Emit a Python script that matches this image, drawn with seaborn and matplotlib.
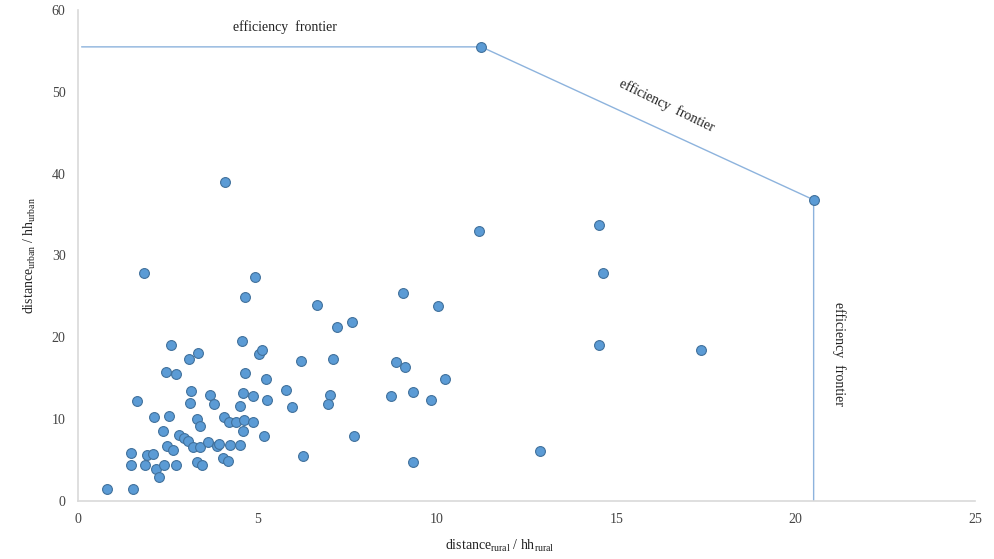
import matplotlib

matplotlib.use("Agg")
import matplotlib.pyplot as plt
import pandas as pd
import seaborn as sns

# household points (x: rural distance per household, y: urban distance per household)
dist_x = [
    0.80, 1.52, 1.65, 1.49, 1.49, 1.86, 1.93, 2.08, 2.16, 2.27,
    2.13, 2.38, 2.40, 2.47, 2.53, 2.58, 2.46, 2.74, 2.64, 2.74,
    2.81, 2.95, 3.08, 3.34, 3.15, 3.13, 3.07, 3.20, 3.32, 3.39,
    3.32, 3.46, 3.41, 3.63, 3.67, 3.78, 3.87, 3.92, 4.06, 4.04,
    4.18, 4.24, 4.20, 4.40, 4.52, 4.52, 4.59, 4.62, 4.59, 4.64,
    4.57, 4.64, 4.87, 4.89, 5.03, 5.14, 5.17, 5.24, 5.26, 5.79,
    5.96, 6.21, 6.26, 6.67, 7.03, 6.98, 7.10, 7.21, 7.63, 7.70,
    8.72, 8.86, 9.11, 9.34, 9.34, 9.05, 9.85, 10.04, 10.24, 1.85,
    4.94, 4.10, 11.17, 11.24, 14.51, 14.63, 14.51, 17.35, 12.87, 20.50,
]
dist_y = [
    1.5, 1.5, 12.2, 5.8, 4.4, 4.4, 5.6, 5.7, 3.9, 2.9,
    10.3, 8.6, 4.4, 6.7, 10.4, 19.0, 15.7, 15.5, 6.2, 4.4,
    8.0, 7.7, 17.4, 18.1, 13.4, 12.0, 7.3, 6.6, 10.0, 9.2,
    4.7, 4.4, 6.6, 7.2, 13.0, 11.9, 6.7, 7.0, 10.3, 5.3,
    4.9, 6.8, 9.7, 9.6, 6.8, 11.6, 13.2, 9.9, 8.5, 15.6,
    19.5, 24.9, 12.8, 9.6, 18.0, 18.4, 7.9, 14.9, 12.3, 13.5,
    11.5, 17.1, 5.5, 24.0, 13.0, 11.9, 17.3, 21.2, 21.9, 7.9,
    12.8, 17.0, 16.4, 13.3, 4.7, 25.4, 12.3, 23.8, 14.9, 27.8,
    27.4, 39.0, 33.0, 55.5, 33.7, 27.8, 19.0, 18.4, 6.1, 36.8,
]

# efficiency frontier corners
frontier_x = [0.1, 11.24, 20.5, 20.5]
frontier_y = [55.5, 55.5, 36.8, 0.0]

X_TICKS = [0, 5, 10, 15, 20, 25]
Y_TICKS = [0, 10, 20, 30, 40, 50, 60]

sns.set_theme(style="white")
plt.rcParams["font.family"] = ["Liberation Serif", "DejaVu Serif"]
plt.rcParams["mathtext.fontset"] = "custom"
plt.rcParams["mathtext.rm"] = "Liberation Serif"
plt.rcParams["mathtext.it"] = "Liberation Serif:italic"

points = pd.DataFrame({"x": dist_x, "y": dist_y})
frontier = pd.DataFrame({"x": frontier_x, "y": frontier_y})

fig, ax = plt.subplots(figsize=(9.94, 5.59), dpi=100)
fig.subplots_adjust(left=0.0785, right=0.981, bottom=0.104, top=0.982)

# estimator=None keeps the vertical segment (two points share x=20.5)
sns.lineplot(data=frontier, x="x", y="y", sort=False, estimator=None,
             color="#8DB3DD", linewidth=1.0, ax=ax, zorder=1)
sns.scatterplot(data=points, x="x", y="y", color="#5B9BD5", edgecolor="#41719C",
                linewidth=0.8, s=50, ax=ax, zorder=2)

text_kw = dict(fontsize=10, color="#222222")
ax.text(5.77, 57.9, "efficiency  frontier", ha="center", va="center", **text_kw)
ax.text(16.4, 48.3, "efficiency  frontier", ha="center", va="center",
        rotation=-26, **text_kw)
ax.text(21.2, 18.0, "efficiency  frontier", ha="center", va="center",
        rotation=-90, **text_kw)

ax.set_xlim(0, 25)
ax.set_ylim(0, 60)
ax.set_xticks(X_TICKS)
ax.set_yticks(Y_TICKS)
ax.tick_params(axis="both", length=0, labelsize=10, labelcolor="#444444", pad=9)

ax.set_xlabel(r"distance$_{\mathrm{rural}}$ / hh$_{\mathrm{rural}}$", fontsize=10,
              color="#222222")
ax.xaxis.set_label_coords(0.47, -0.075)
ax.set_ylabel(r"distance$_{\mathrm{urban}}$ / hh$_{\mathrm{urban}}$", fontsize=10,
              color="#222222", labelpad=10)

for side in ["top", "right"]:
    ax.spines[side].set_visible(False)
for side in ["left", "bottom"]:
    ax.spines[side].set_color("#D9D9D9")
    ax.spines[side].set_linewidth(1.2)

fig.savefig("out.png", dpi=100)
